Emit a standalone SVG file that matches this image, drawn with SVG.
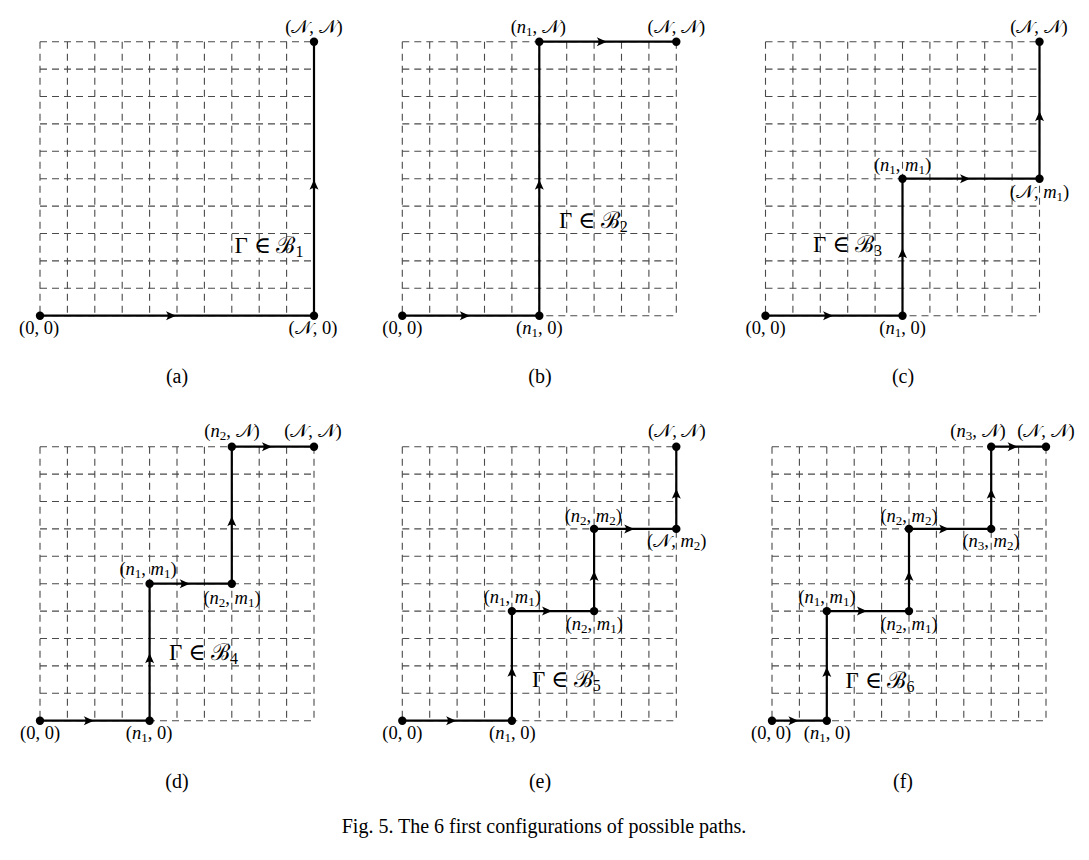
<svg xmlns="http://www.w3.org/2000/svg" width="1089" height="860" viewBox="0 0 1089 860">
<style>
.grid{fill:none;stroke:#4a4a4a;stroke-width:1.1;stroke-dasharray:7 5}
.path{fill:none;stroke:#000;stroke-width:2.2;stroke-linejoin:miter}
.dot{fill:#000}
.ah{fill:#000}
.lb{font-family:"Liberation Serif","DejaVu Serif",serif;font-size:18.5px;fill:#000;text-anchor:middle}
.it{font-style:italic}
.sb{font-size:13px}
.gm{font-family:"Liberation Serif","DejaVu Serif",serif;font-size:23px;fill:#000;text-anchor:middle}
.gs{font-size:16px}
.sub{font-family:"Liberation Serif",serif;font-size:20px;fill:#000;text-anchor:middle}
.cap{font-family:"Liberation Serif",serif;font-size:20px;fill:#000;text-anchor:middle}
</style>
<defs>
<g id="grid">
<path class="grid" d="M0 0V274M27.4 0V274M54.8 0V274M82.2 0V274M109.6 0V274M137 0V274M164.4 0V274M191.8 0V274M219.2 0V274M246.6 0V274M274 0V274"/>
<path class="grid" d="M0 0H274M0 27.4H274M0 54.8H274M0 82.2H274M0 109.6H274M0 137H274M0 164.4H274M0 191.8H274M0 219.2H274M0 246.6H274M0 274H274"/>
</g>
<path id="ahR" class="ah" d="M0.5,0 L-9.5,-4.5 Q-6,0 -9.5,4.5 Z"/>
<path id="ahU" class="ah" d="M0,-0.5 L-4.5,9.5 Q0,6 4.5,9.5 Z"/>
</defs>

<!-- Panel (a) -->
<g id="panel-a" transform="translate(40,41.7)">
<use href="#grid"/>
<g id="a-connectors">
<path class="path" d="M0 274H274V0"/>
<use href="#ahR" x="135.5" y="274"/>
<use href="#ahU" x="274" y="138.5"/>
</g>
<g id="a-node-00"><circle class="dot" cx="0" cy="274" r="4.2"/><text class="lb" x="-1" y="292">(0, 0)</text></g>
<g id="a-node-N0"><circle class="dot" cx="274" cy="274" r="4.2"/><text class="lb" x="273" y="292">(𝒩, 0)</text></g>
<g id="a-node-NN"><circle class="dot" cx="274" cy="0" r="4.2"/><text class="lb" x="274" y="-9">(𝒩, 𝒩)</text></g>
<text class="gm" x="229" y="211.3">Γ ∈ ℬ<tspan class="gs" dy="4">1</tspan></text>
</g>

<!-- Panel (b) -->
<g id="panel-b" transform="translate(402.3,41.7)">
<use href="#grid"/>
<g id="b-connectors">
<path class="path" d="M0 274H137V0H274"/>
<use href="#ahR" x="67" y="274"/>
<use href="#ahU" x="137" y="138.5"/>
<use href="#ahR" x="204" y="0"/>
</g>
<g id="b-node-00"><circle class="dot" cx="0" cy="274" r="4.2"/><text class="lb" x="0" y="292">(0, 0)</text></g>
<g id="b-node-n10"><circle class="dot" cx="137" cy="274" r="4.2"/><text class="lb" x="137" y="292">(<tspan class="it">n</tspan><tspan class="sb" dy="3">1</tspan><tspan dy="-3">, 0)</tspan></text></g>
<g id="b-node-n1N"><circle class="dot" cx="137" cy="0" r="4.2"/><text class="lb" x="136" y="-9">(<tspan class="it">n</tspan><tspan class="sb" dy="3">1</tspan><tspan dy="-3">, 𝒩)</tspan></text></g>
<g id="b-node-NN"><circle class="dot" cx="274" cy="0" r="4.2"/><text class="lb" x="274" y="-9">(𝒩, 𝒩)</text></g>
<text class="gm" x="191" y="186.3">Γ ∈ ℬ<tspan class="gs" dy="4">2</tspan></text>
</g>

<!-- Panel (c) -->
<g id="panel-c" transform="translate(765.5,41.7)">
<use href="#grid"/>
<g id="c-connectors">
<path class="path" d="M0 274H137V137H274V0"/>
<use href="#ahR" x="67" y="274"/>
<use href="#ahU" x="137" y="207"/>
<use href="#ahR" x="204" y="137"/>
<use href="#ahU" x="274" y="70"/>
</g>
<g id="c-node-00"><circle class="dot" cx="0" cy="274" r="4.2"/><text class="lb" x="0" y="292">(0, 0)</text></g>
<g id="c-node-n10"><circle class="dot" cx="137" cy="274" r="4.2"/><text class="lb" x="137" y="292">(<tspan class="it">n</tspan><tspan class="sb" dy="3">1</tspan><tspan dy="-3">, 0)</tspan></text></g>
<g id="c-node-n1m1"><circle class="dot" cx="137" cy="137" r="4.2"/><text class="lb" x="137" y="129">(<tspan class="it">n</tspan><tspan class="sb" dy="3">1</tspan><tspan dy="-3">, </tspan><tspan class="it">m</tspan><tspan class="sb" dy="3">1</tspan><tspan dy="-3">)</tspan></text></g>
<g id="c-node-Nm1"><circle class="dot" cx="274" cy="137" r="4.2"/><text class="lb" x="274" y="156.5">(𝒩, <tspan class="it">m</tspan><tspan class="sb" dy="3">1</tspan><tspan dy="-3">)</tspan></text></g>
<g id="c-node-NN"><circle class="dot" cx="274" cy="0" r="4.2"/><text class="lb" x="273.5" y="-9">(𝒩, 𝒩)</text></g>
<text class="gm" x="82" y="210.3">Γ ∈ ℬ<tspan class="gs" dy="4">3</tspan></text>
</g>

<!-- Panel (d) -->
<g id="panel-d" transform="translate(40,446.7)">
<use href="#grid"/>
<g id="d-connectors">
<path class="path" d="M0 274H109.6V137H191.8V0H274"/>
<use href="#ahR" x="53.3" y="274"/>
<use href="#ahU" x="109.6" y="207"/>
<use href="#ahR" x="149.2" y="137"/>
<use href="#ahU" x="191.8" y="70"/>
<use href="#ahR" x="231.4" y="0"/>
</g>
<g id="d-node-00"><circle class="dot" cx="0" cy="274" r="4.2"/><text class="lb" x="0" y="292.3">(0, 0)</text></g>
<g id="d-node-n10"><circle class="dot" cx="109.6" cy="274" r="4.2"/><text class="lb" x="109" y="292.3">(<tspan class="it">n</tspan><tspan class="sb" dy="3">1</tspan><tspan dy="-3">, 0)</tspan></text></g>
<g id="d-node-n1m1"><circle class="dot" cx="109.6" cy="137" r="4.2"/><text class="lb" x="108" y="128.3">(<tspan class="it">n</tspan><tspan class="sb" dy="3">1</tspan><tspan dy="-3">, </tspan><tspan class="it">m</tspan><tspan class="sb" dy="3">1</tspan><tspan dy="-3">)</tspan></text></g>
<g id="d-node-n2m1"><circle class="dot" cx="191.8" cy="137" r="4.2"/><text class="lb" x="192" y="157">(<tspan class="it">n</tspan><tspan class="sb" dy="3">2</tspan><tspan dy="-3">, </tspan><tspan class="it">m</tspan><tspan class="sb" dy="3">1</tspan><tspan dy="-3">)</tspan></text></g>
<g id="d-node-n2N"><circle class="dot" cx="191.8" cy="0" r="4.2"/><text class="lb" x="192" y="-10">(<tspan class="it">n</tspan><tspan class="sb" dy="3">2</tspan><tspan dy="-3">, 𝒩)</tspan></text></g>
<g id="d-node-NN"><circle class="dot" cx="274" cy="0" r="4.2"/><text class="lb" x="273" y="-10">(𝒩, 𝒩)</text></g>
<text class="gm" x="163.5" y="213.3">Γ ∈ ℬ<tspan class="gs" dy="4">4</tspan></text>
</g>

<!-- Panel (e) -->
<g id="panel-e" transform="translate(402.3,446.7)">
<use href="#grid"/>
<g id="e-connectors">
<path class="path" d="M0 274H109.6V164.4H191.8V82.2H274V0"/>
<use href="#ahR" x="53.3" y="274"/>
<use href="#ahU" x="109.6" y="220.7"/>
<use href="#ahR" x="149.2" y="164.4"/>
<use href="#ahU" x="191.8" y="124.8"/>
<use href="#ahR" x="231.4" y="82.2"/>
<use href="#ahU" x="274" y="42.6"/>
</g>
<g id="e-node-00"><circle class="dot" cx="0" cy="274" r="4.2"/><text class="lb" x="0" y="292.3">(0, 0)</text></g>
<g id="e-node-n10"><circle class="dot" cx="109.6" cy="274" r="4.2"/><text class="lb" x="110" y="292.3">(<tspan class="it">n</tspan><tspan class="sb" dy="3">1</tspan><tspan dy="-3">, 0)</tspan></text></g>
<g id="e-node-n1m1"><circle class="dot" cx="109.6" cy="164.4" r="4.2"/><text class="lb" x="110" y="156.3">(<tspan class="it">n</tspan><tspan class="sb" dy="3">1</tspan><tspan dy="-3">, </tspan><tspan class="it">m</tspan><tspan class="sb" dy="3">1</tspan><tspan dy="-3">)</tspan></text></g>
<g id="e-node-n2m1"><circle class="dot" cx="191.8" cy="164.4" r="4.2"/><text class="lb" x="192" y="183.3">(<tspan class="it">n</tspan><tspan class="sb" dy="3">2</tspan><tspan dy="-3">, </tspan><tspan class="it">m</tspan><tspan class="sb" dy="3">1</tspan><tspan dy="-3">)</tspan></text></g>
<g id="e-node-n2m2"><circle class="dot" cx="191.8" cy="82.2" r="4.2"/><text class="lb" x="191" y="75.3">(<tspan class="it">n</tspan><tspan class="sb" dy="3">2</tspan><tspan dy="-3">, </tspan><tspan class="it">m</tspan><tspan class="sb" dy="3">2</tspan><tspan dy="-3">)</tspan></text></g>
<g id="e-node-Nm2"><circle class="dot" cx="274" cy="82.2" r="4.2"/><text class="lb" x="274.5" y="100.3">(𝒩, <tspan class="it">m</tspan><tspan class="sb" dy="3">2</tspan><tspan dy="-3">)</tspan></text></g>
<g id="e-node-NN"><circle class="dot" cx="274" cy="0" r="4.2"/><text class="lb" x="274.5" y="-10">(𝒩, 𝒩)</text></g>
<text class="gm" x="164" y="240.3">Γ ∈ ℬ<tspan class="gs" dy="4">5</tspan></text>
</g>

<!-- Panel (f) -->
<g id="panel-f" transform="translate(772,446.7)">
<use href="#grid"/>
<g id="f-connectors">
<path class="path" d="M0 274H54.8V164.4H137V82.2H219.2V0H274"/>
<use href="#ahR" x="25.9" y="274"/>
<use href="#ahU" x="54.8" y="220.7"/>
<use href="#ahR" x="94.4" y="164.4"/>
<use href="#ahU" x="137" y="124.8"/>
<use href="#ahR" x="176.6" y="82.2"/>
<use href="#ahU" x="219.2" y="42.6"/>
<use href="#ahR" x="245.1" y="0"/>
</g>
<g id="f-node-00"><circle class="dot" cx="0" cy="274" r="4.2"/><text class="lb" x="-1" y="292.3">(0, 0)</text></g>
<g id="f-node-n10"><circle class="dot" cx="54.8" cy="274" r="4.2"/><text class="lb" x="55" y="292.3">(<tspan class="it">n</tspan><tspan class="sb" dy="3">1</tspan><tspan dy="-3">, 0)</tspan></text></g>
<g id="f-node-n1m1"><circle class="dot" cx="54.8" cy="164.4" r="4.2"/><text class="lb" x="55" y="156.3">(<tspan class="it">n</tspan><tspan class="sb" dy="3">1</tspan><tspan dy="-3">, </tspan><tspan class="it">m</tspan><tspan class="sb" dy="3">1</tspan><tspan dy="-3">)</tspan></text></g>
<g id="f-node-n2m1"><circle class="dot" cx="137" cy="164.4" r="4.2"/><text class="lb" x="137" y="183.3">(<tspan class="it">n</tspan><tspan class="sb" dy="3">2</tspan><tspan dy="-3">, </tspan><tspan class="it">m</tspan><tspan class="sb" dy="3">1</tspan><tspan dy="-3">)</tspan></text></g>
<g id="f-node-n2m2"><circle class="dot" cx="137" cy="82.2" r="4.2"/><text class="lb" x="137" y="75.3">(<tspan class="it">n</tspan><tspan class="sb" dy="3">2</tspan><tspan dy="-3">, </tspan><tspan class="it">m</tspan><tspan class="sb" dy="3">2</tspan><tspan dy="-3">)</tspan></text></g>
<g id="f-node-n3m2"><circle class="dot" cx="219.2" cy="82.2" r="4.2"/><text class="lb" x="219" y="100.3">(<tspan class="it">n</tspan><tspan class="sb" dy="3">3</tspan><tspan dy="-3">, </tspan><tspan class="it">m</tspan><tspan class="sb" dy="3">2</tspan><tspan dy="-3">)</tspan></text></g>
<g id="f-node-n3N"><circle class="dot" cx="219.2" cy="0" r="4.2"/><text class="lb" x="206" y="-10">(<tspan class="it">n</tspan><tspan class="sb" dy="3">3</tspan><tspan dy="-3">, 𝒩)</tspan></text></g>
<g id="f-node-NN"><circle class="dot" cx="274" cy="0" r="4.2"/><text class="lb" x="274" y="-10">(𝒩, 𝒩)</text></g>
<text class="gm" x="108" y="241.3">Γ ∈ ℬ<tspan class="gs" dy="4">6</tspan></text>
</g>

<g id="sublabels">
<text class="sub" x="177" y="383">(a)</text>
<text class="sub" x="540" y="383">(b)</text>
<text class="sub" x="903" y="383">(c)</text>
<text class="sub" x="177" y="788">(d)</text>
<text class="sub" x="540" y="788">(e)</text>
<text class="sub" x="903" y="788">(f)</text>
</g>
<text class="cap" x="544" y="833">Fig. 5. The 6 first configurations of possible paths.</text>
</svg>
